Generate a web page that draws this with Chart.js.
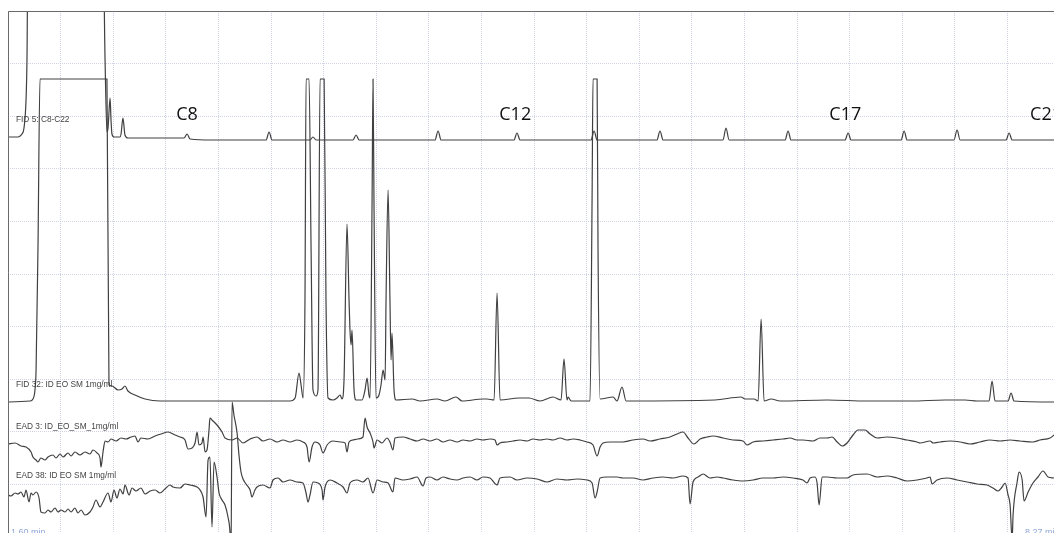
<!DOCTYPE html>
<html>
<head>
<meta charset="utf-8">
<script src="https://cdn.jsdelivr.net/npm/chart.js@4.4.1/dist/chart.umd.min.js"></script>
<style>
  html, body { margin: 0; padding: 0; background: #fff; }
  #wrap { width: 1054px; height: 533px; position: relative; }
</style>
</head>
<body>
<div id="wrap"><canvas id="myChart"></canvas></div>
<script>
// retention time (min), signal (arbitrary units, up = positive, 0 = trace baseline)
const fid5 = [
  [1.600,3],[1.664,3],[1.677,4],[1.689,6],[1.702,12],[1.715,40],[1.721,80],[1.728,200],
  [2.206,200],[2.219,80],[2.231,8],[2.238,12],[2.251,42],[2.257,20],[2.263,6],[2.276,3],
  [2.314,3],[2.321,6],[2.333,22],[2.346,5],[2.365,2],[2.500,2],[2.650,2],[2.723,2],[2.742,6],[2.761,1],
  [2.900,0],[3.246,0],[3.265,8],[3.284,0],[3.526,0],[3.545,3],[3.565,0],[3.800,0],[3.820,5],[3.839,0],
  [4.323,0],[4.343,9],[4.362,0],[4.827,0],[4.846,7],[4.866,0],[5.318,0],[5.338,9],[5.357,0],
  [5.739,0],[5.758,9],[5.778,0],[6.160,0],[6.179,12],[6.199,0],[6.556,0],[6.575,9],[6.594,0],
  [6.938,0],[6.958,7],[6.977,0],[7.296,0],[7.315,9],[7.334,0],[7.633,0],[7.653,10],[7.672,0],
  [7.965,0],[7.985,7],[8.004,0],[8.271,0]
];

const fid32 = [
  [1.600,-1],[1.740,0],[1.759,2],[1.772,11],[1.779,31],[1.791,151],[1.804,322],
  [2.231,322],[2.244,16],[2.263,15],[2.302,11],[2.327,12],[2.346,15],[2.365,10],[2.410,6],[2.474,2],
  [2.570,0],[3.144,0],[3.399,0],[3.431,3],[3.456,28],[3.469,16],[3.482,3],[3.494,101],[3.501,322],
  [3.520,322],[3.533,151],[3.545,11],[3.565,5],[3.577,11],[3.590,322],[3.616,322],[3.628,101],
  [3.641,3],[3.673,1],[3.698,3],[3.718,6],[3.730,2],[3.743,21],[3.762,177],[3.775,101],[3.781,71],
  [3.788,56],[3.794,71],[3.807,11],[3.820,1],[3.858,1],[3.877,11],[3.890,23],[3.902,6],[3.909,3],
  [3.922,201],[3.928,322],[3.934,201],[3.947,3],[3.966,6],[3.979,16],[3.992,31],[4.005,21],[4.011,101],
  [4.024,211],[4.036,101],[4.043,41],[4.049,68],[4.062,11],[4.075,1],[4.177,2],[4.228,0],[4.336,2],
  [4.387,0],[4.457,4],[4.496,0],[4.630,2],[4.655,2],[4.700,1],[4.719,108],[4.738,1],[4.859,3],
  [4.891,3],[4.923,3],[4.993,0],[5.076,4],[5.127,1],[5.146,42],[5.165,1],[5.172,4],[5.191,0],
  [5.312,0],[5.325,201],[5.331,322],[5.357,322],[5.363,151],[5.376,2],[5.459,4],[5.484,0],[5.516,14],
  [5.542,0],[6.109,1],[6.275,4],[6.301,2],[6.358,2],[6.384,0],[6.403,82],[6.422,0],[6.467,2],
  [6.524,0],[6.824,1],[7.079,0],[7.359,0],[7.576,1],[7.704,1],[7.780,0],[7.857,0],[7.876,20],
  [7.895,0],[7.978,0],[7.997,8],[8.016,0],[8.271,-1]
];

const ead3 = [
  [1.600,-4],[1.645,-3],[1.683,-6],[1.715,-7],[1.747,-12],[1.759,-17],[1.779,-20],[1.791,-22],
  [1.810,-18],[1.836,-20],[1.855,-17],[1.887,-15],[1.906,-18],[1.932,-14],[1.951,-17],[1.983,-13],
  [2.002,-16],[2.027,-12],[2.059,-15],[2.091,-12],[2.123,-14],[2.142,-10],[2.168,-13],[2.187,-18],
  [2.193,-27],[2.206,-12],[2.219,-1],[2.238,-2],[2.257,1],[2.289,-1],[2.321,2],[2.353,1],[2.385,3],
  [2.410,4],[2.429,-2],[2.448,2],[2.493,1],[2.538,4],[2.576,6],[2.621,8],[2.665,5],[2.697,3],
  [2.729,0],[2.748,-9],[2.774,-8],[2.793,-3],[2.806,8],[2.818,-5],[2.837,-3],[2.844,3],[2.857,-12],
  [2.869,-10],[2.882,10],[2.888,22],[2.901,20],[2.933,15],[2.965,8],[2.984,2],[3.029,0],[3.061,2],
  [3.099,-3],[3.144,1],[3.188,3],[3.226,-1],[3.271,1],[3.316,-2],[3.354,0],[3.399,-2],[3.443,0],
  [3.481,-2],[3.507,-7],[3.520,-22],[3.539,-7],[3.558,-2],[3.590,-5],[3.609,-13],[3.635,-5],
  [3.673,-1],[3.718,-2],[3.750,-3],[3.762,-12],[3.775,-2],[3.800,0],[3.832,1],[3.864,3],[3.877,22],
  [3.890,13],[3.909,7],[3.928,-2],[3.934,-8],[3.954,0],[3.985,-3],[4.017,2],[4.036,-2],[4.055,-10],
  [4.068,2],[4.119,3],[4.164,1],[4.209,-1],[4.247,1],[4.292,-1],[4.336,1],[4.374,-2],[4.419,0],
  [4.464,-2],[4.502,0],[4.547,-1],[4.591,1],[4.629,0],[4.674,1],[4.706,0],[4.719,-5],[4.738,-3],
  [4.783,-2],[4.821,-1],[4.866,0],[4.910,-1],[4.948,1],[4.993,0],[5.038,1],[5.076,0],[5.121,2],
  [5.165,0],[5.204,1],[5.248,0],[5.293,-2],[5.331,-5],[5.357,-16],[5.376,-7],[5.395,-3],[5.440,-2],
  [5.522,-2],[5.586,0],[5.650,1],[5.695,-1],[5.758,1],[5.822,3],[5.867,6],[5.905,8],[5.937,2],
  [5.975,-4],[6.014,1],[6.058,3],[6.096,4],[6.160,2],[6.224,0],[6.288,-1],[6.313,-5],[6.352,-2],
  [6.415,-1],[6.479,0],[6.543,1],[6.588,2],[6.632,0],[6.670,0],[6.734,-1],[6.779,2],[6.824,2],
  [6.856,3],[6.888,-2],[6.920,-6],[6.951,-3],[6.989,5],[7.021,10],[7.066,10],[7.098,6],[7.143,2],
  [7.206,3],[7.270,2],[7.334,0],[7.398,-2],[7.417,-3],[7.481,-1],[7.500,-3],[7.544,-2],[7.608,-1],
  [7.672,-2],[7.736,-4],[7.799,-2],[7.863,0],[7.927,-1],[7.991,0],[8.055,-1],[8.137,-2],[8.182,0],
  [8.246,2],[8.271,5]
];

const ead38 = [
  [1.600,-15],[1.619,-16],[1.645,-13],[1.664,-14],[1.683,-12],[1.702,-17],[1.715,-10],[1.734,-22],
  [1.747,-13],[1.759,-15],[1.779,-12],[1.798,-18],[1.810,-32],[1.836,-33],[1.855,-30],[1.874,-32],
  [1.900,-28],[1.919,-32],[1.938,-30],[1.964,-32],[1.983,-29],[2.002,-32],[2.027,-28],[2.046,-33],
  [2.066,-30],[2.091,-35],[2.123,-32],[2.142,-27],[2.161,-20],[2.187,-27],[2.206,-22],[2.238,-13],
  [2.257,-22],[2.276,-10],[2.295,-18],[2.314,-9],[2.334,-14],[2.346,-5],[2.372,-15],[2.391,-8],
  [2.416,-11],[2.448,-8],[2.474,-14],[2.506,-11],[2.538,-10],[2.569,-13],[2.601,-9],[2.633,-5],
  [2.652,-7],[2.697,-8],[2.729,-4],[2.761,-5],[2.806,-7],[2.825,-10],[2.844,-17],[2.863,-37],
  [2.876,20],[2.888,23],[2.901,-47],[2.914,18],[2.933,3],[2.946,-13],[2.965,-20],[2.984,-25],
  [3.003,-37],[3.016,-53],[3.022,-80],[3.029,78],[3.041,65],[3.061,47],[3.073,25],[3.086,8],
  [3.099,1],[3.118,-4],[3.144,-10],[3.156,-17],[3.175,-10],[3.188,-7],[3.226,-5],[3.271,-8],
  [3.290,0],[3.322,2],[3.354,-2],[3.399,0],[3.443,-2],[3.481,-3],[3.501,-13],[3.513,-22],[3.526,-15],
  [3.545,-2],[3.577,-3],[3.603,-10],[3.609,-20],[3.622,-7],[3.654,0],[3.698,-3],[3.737,-7],[3.762,-13],
  [3.781,-3],[3.826,0],[3.864,-2],[3.896,2],[3.928,-13],[3.954,0],[3.992,-2],[4.024,-3],[4.055,-12],
  [4.068,2],[4.119,0],[4.164,1],[4.209,3],[4.247,-6],[4.266,2],[4.292,3],[4.336,0],[4.374,3],
  [4.419,1],[4.464,0],[4.502,2],[4.547,3],[4.591,0],[4.629,3],[4.674,2],[4.719,-5],[4.738,2],
  [4.802,3],[4.846,0],[4.910,2],[4.974,1],[5.038,-2],[5.101,1],[5.165,0],[5.229,1],[5.293,0],
  [5.325,-3],[5.344,-18],[5.357,-12],[5.376,2],[5.420,3],[5.484,3],[5.522,2],[5.586,2],[5.650,0],
  [5.714,2],[5.777,3],[5.841,2],[5.905,4],[5.937,2],[5.950,-24],[5.969,-2],[6.001,3],[6.033,6],
  [6.077,2],[6.122,3],[6.160,2],[6.224,0],[6.288,-1],[6.352,0],[6.415,2],[6.479,2],[6.543,3],
  [6.607,2],[6.670,0],[6.696,-3],[6.715,2],[6.747,3],[6.760,-3],[6.773,-25],[6.792,3],[6.824,3],
  [6.888,2],[6.951,2],[6.989,5],[7.079,6],[7.143,3],[7.206,4],[7.270,2],[7.334,-1],[7.398,0],
  [7.461,2],[7.481,3],[7.493,-4],[7.525,0],[7.589,2],[7.653,0],[7.716,-2],[7.780,-4],[7.844,-5],
  [7.882,-8],[7.914,-11],[7.940,-7],[7.959,-3],[7.978,-15],[7.991,-25],[8.004,-60],[8.010,-35],
  [8.036,-2],[8.048,8],[8.068,0],[8.080,-21],[8.106,-12],[8.137,-3],[8.169,3],[8.201,9],[8.233,3],
  [8.271,2]
];

const traceNames = ['FID 5: C8-C22', 'FID 32: ID EO SM 1mg/ml', 'EAD 3: ID_EO_SM_1mg/ml', 'EAD 38: ID EO SM 1mg/ml'];
const alkaneNames = ['C8', 'C12', 'C17', 'C21'];
const alkaneTimes = [2.742, 4.835, 6.940, 8.220];
const timeRange = [1.60, 8.27];

// layout: vertical offset of each trace baseline, in plot units (1 unit ~ 1 px)
const traceOffsets = [393, 132, 93, 53];
const traces = [fid5, fid32, ead3, ead38];

const xMin = 1.60, xMax = 8.271;
const yMax = 522;
const gridX = 0.3355, gridY = 52.6;

const datasets = traces.map((tr, i) => ({
  label: traceNames[i],
  data: tr.map(p => ({ x: p[0], y: p[1] + traceOffsets[i] })),
  borderColor: '#404040',
  borderWidth: 1.2,
  pointRadius: 0,
  cubicInterpolationMode: 'monotone',
  fill: false
}));

const overlay = {
  id: 'overlay',
  afterDatasetsDraw(chart) {
    const { ctx, chartArea: a, scales: { x, y } } = chart;
    ctx.save();
    // frame
    ctx.strokeStyle = '#6a6a6a';
    ctx.lineWidth = 1;
    ctx.beginPath();
    ctx.moveTo(a.left + 0.5, a.bottom);
    ctx.lineTo(a.left + 0.5, a.top + 0.5);
    ctx.lineTo(a.right, a.top + 0.5);
    ctx.stroke();

    // trace names
    ctx.fillStyle = '#444';
    ctx.font = '8.3px "Liberation Sans", Arial, sans-serif';
    ctx.textBaseline = 'middle';
    ctx.textAlign = 'left';
    const nameShift = [20, 16, 13, 4];
    traceNames.forEach((n, i) => {
      ctx.fillText(n, a.left + 8, y.getPixelForValue(traceOffsets[i]) - nameShift[i]);
    });

    // alkane labels
    ctx.fillStyle = '#111';
    ctx.font = '18px "Open Sans", sans-serif';
    ctx.textAlign = 'center';
    alkaneNames.forEach((n, i) => {
      ctx.fillText(n, x.getPixelForValue(alkaneTimes[i]), y.getPixelForValue(traceOffsets[0]) - 25);
    });

    // time range
    ctx.fillStyle = '#8fa6d6';
    ctx.font = '9px "Liberation Sans", Arial, sans-serif';
    ctx.textAlign = 'left';
    ctx.textBaseline = 'alphabetic';
    ctx.fillText(timeRange[0].toFixed(2) + ' min', a.left + 3, a.bottom + 2);
    ctx.fillText(timeRange[1].toFixed(2) + ' min', a.right - 29, a.bottom + 2);
    ctx.restore();
  }
};

const ctx = document.getElementById('myChart');
new Chart(ctx, {
  type: 'line',
  data: { datasets },
  options: {
    responsive: true,
    maintainAspectRatio: false,
    animation: false,
    layout: { padding: { left: 8, top: 11, right: 0, bottom: 0 } },
    plugins: { legend: { display: false }, tooltip: { enabled: false } },
    scales: {
      x: {
        type: 'linear',
        position: 'top',
        min: xMin,
        max: xMax,
        afterBuildTicks: s => {
          const t = [];
          for (let v = xMin; v <= xMax + 1e-6; v += gridX) t.push({ value: v });
          s.ticks = t;
        },
        ticks: { display: false },
        grid: { color: 'rgba(200,203,225,0.85)', drawTicks: false, lineWidth: 1 },
        border: { display: false, dash: [1, 1] }
      },
      y: {
        type: 'linear',
        min: 0,
        max: yMax,
        afterBuildTicks: s => {
          const t = [];
          for (let v = yMax; v >= 0; v -= gridY) t.push({ value: v });
          s.ticks = t;
        },
        ticks: { display: false },
        grid: { color: 'rgba(200,203,225,0.85)', drawTicks: false, lineWidth: 1 },
        border: { display: false, dash: [1, 1] }
      }
    }
  },
  plugins: [overlay]
});
</script>
</body>
</html>
